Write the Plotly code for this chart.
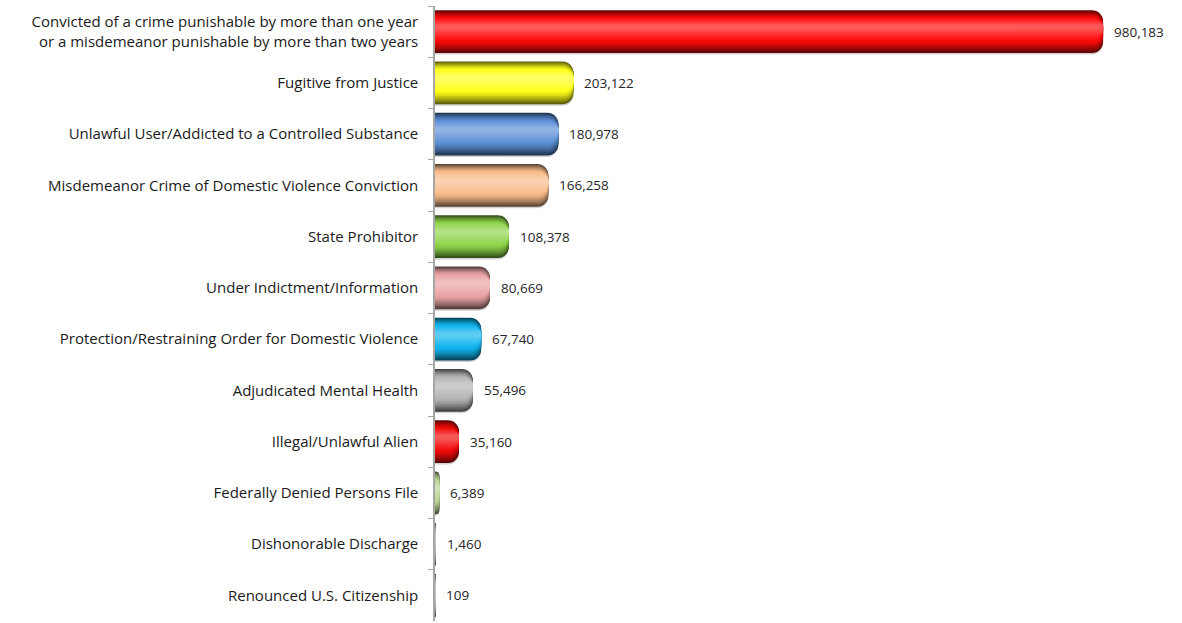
import plotly.graph_objects as go

# Denial reasons and counts
categories = [
    "Convicted of a crime punishable by more than one year<br>or a misdemeanor punishable by more than two years",
    "Fugitive from Justice",
    "Unlawful User/Addicted to a Controlled Substance",
    "Misdemeanor Crime of Domestic Violence Conviction",
    "State Prohibitor",
    "Under Indictment/Information",
    "Protection/Restraining Order for Domestic Violence",
    "Adjudicated Mental Health",
    "Illegal/Unlawful Alien",
    "Federally Denied Persons File",
    "Dishonorable Discharge",
    "Renounced U.S. Citizenship",
]
values = [980183, 203122, 180978, 166258, 108378, 80669, 67740, 55496, 35160, 6389, 1460, 109]
base_colors = [
    "#ff0a0a", "#ffff1a", "#5b8fd6", "#f9bc8a", "#8ed44a", "#e9a2a4",
    "#10b4ee", "#b4b4b4", "#f20a0a", "#b9d595", "#b0b0b0", "#b0b0b0",
]


def hex_rgb(h):
    h = h.lstrip("#")
    return tuple(int(h[i:i + 2], 16) for i in (0, 2, 4))


def mix(c, target, t):
    a = hex_rgb(c)
    b = hex_rgb(target)
    r = [round(a[i] + (b[i] - a[i]) * t) for i in range(3)]
    return "rgb(%d,%d,%d)" % tuple(r)


W = 0.83  # bar thickness in category units
BAR_PX = 42  # approximate bar thickness in pixels, for corner radii


def shade(c, rel):
    # darker toward the rim, brightest near the upper-middle highlight
    if rel > 0.55:
        t = (rel - 0.55) / 0.45
        return mix(c, "#000000", 0.62 * t ** 1.3)
    t = (0.55 - rel) / 0.45
    return mix(c, "#ffffff", 0.32 * t)


fig = go.Figure()

# soft drop shadow under each bar
fig.add_trace(go.Bar(
    y=categories, x=values, orientation="h",
    width=[W] * len(values), offset=[-W / 2 + 0.03] * len(values),
    marker=dict(color="rgb(210,210,210)", line=dict(width=0), cornerradius=11),
    hoverinfo="skip", showlegend=False,
))

# nested layers build up the cylinder shading
n_layers = 16
for i in range(n_layers):
    rel = 1.0 - 0.9 * i / (n_layers - 1)
    w = W * rel
    shift = 0.10 * (1 - rel)  # highlight sits above centre
    rad = max(1, min(11, rel * BAR_PX / 2 - 1))
    fig.add_trace(go.Bar(
        y=categories, x=values, orientation="h",
        width=[w] * len(values), offset=[-w / 2 - shift] * len(values),
        marker=dict(color=[shade(c, rel) for c in base_colors], line=dict(width=0), cornerradius=rad),
        hoverinfo="skip", showlegend=False,
    ))

# Value labels to the right of each bar
for cat, v in zip(categories, values):
    fig.add_annotation(
        x=v, y=cat, text=f"{v:,}", showarrow=False,
        xanchor="left", yanchor="middle", xshift=9,
        font=dict(family="Open Sans", size=13.5, color="#262626"),
    )

fig.update_layout(
    width=1182, height=623,
    margin=dict(l=435, r=0, t=6, b=2),
    paper_bgcolor="white", plot_bgcolor="white",
    barmode="overlay",
    font=dict(family="Open Sans", size=15, color="#1a1a1a"),
    showlegend=False,
)
fig.update_xaxes(range=[0, 1096000], visible=False)
fig.update_yaxes(
    autorange="reversed",
    showline=True, linecolor="#a6a6a6", linewidth=1.5,
    ticks="outside", tickson="boundaries", ticklen=5, tickcolor="#a6a6a6",
    ticklabelstandoff=12, showgrid=False,
    tickfont=dict(family="Open Sans", size=15, color="#1a1a1a"),
)

fig.write_html("out.html")
